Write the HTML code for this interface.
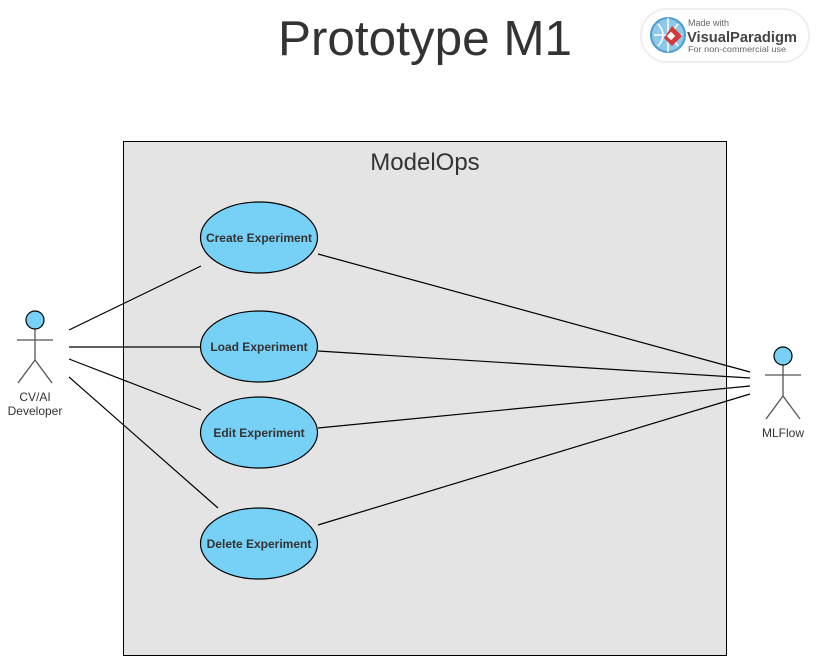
<!DOCTYPE html>
<html><head><meta charset="utf-8"><style>
html,body{margin:0;padding:0;background:#fff;}
svg{display:block;}
</style></head><body>
<svg width="817" height="658" viewBox="0 0 817 658" xmlns="http://www.w3.org/2000/svg" font-family="Liberation Sans, sans-serif">
<text x="425" y="55" text-anchor="middle" font-size="49" fill="#333" textLength="294" lengthAdjust="spacingAndGlyphs">Prototype M1</text>
<!-- VP badge -->
<rect x="641" y="9" width="168" height="53" rx="26" fill="#fff" stroke="#eee" stroke-width="2"/>
<circle cx="668" cy="35" r="17" fill="#8fc9ea" stroke="#4a9ccf" stroke-width="2"/>
<path d="M654 35h28M668 18v34M658 24q10 11 0 22M678 24q-10 11 0 22" stroke="#fff" fill="none" stroke-width="1.5"/>
<path d="M672 26l10 10-10 10-8-8z" fill="#d43a3a"/>
<rect x="668" y="33" width="6" height="6" fill="#fff" transform="rotate(45 671 36)"/>
<text x="688" y="26" font-size="9" fill="#666">Made with</text>
<text x="687" y="42" font-size="15" font-weight="bold" fill="#444" textLength="110" lengthAdjust="spacingAndGlyphs">VisualParadigm</text>
<text x="688" y="52" font-size="8.5" fill="#666" textLength="98" lengthAdjust="spacingAndGlyphs">For non-commercial use</text>
<!-- system box -->
<rect x="123.5" y="141.5" width="603" height="514" fill="#e4e4e4" stroke="#000" stroke-width="1"/>
<text x="425" y="170" text-anchor="middle" font-size="24" fill="#333">ModelOps</text>
<!-- connectors -->
<g stroke="#000" stroke-width="1.2">
<line x1="69" y1="330" x2="201" y2="266"/>
<line x1="69" y1="347" x2="200" y2="347"/>
<line x1="69" y1="359" x2="201" y2="410"/>
<line x1="69" y1="377" x2="218" y2="508"/>
<line x1="318" y1="254" x2="750" y2="372"/>
<line x1="318" y1="351" x2="750" y2="378"/>
<line x1="318" y1="428" x2="750" y2="386"/>
<line x1="318" y1="525" x2="750" y2="394"/>
</g>
<!-- use cases -->
<g fill="#77d0f5" stroke="#000" stroke-width="1.2">
<ellipse cx="259" cy="237.5" rx="58.5" ry="35.5"/>
<ellipse cx="259" cy="346.5" rx="58.5" ry="35.5"/>
<ellipse cx="259" cy="432.5" rx="58.5" ry="35.5"/>
<ellipse cx="259" cy="543.5" rx="58.5" ry="35.5"/>
</g>
<g font-size="12" font-weight="bold" fill="#333" text-anchor="middle">
<text x="259" y="242">Create Experiment</text>
<text x="259" y="351">Load Experiment</text>
<text x="259" y="437">Edit Experiment</text>
<text x="259" y="548">Delete Experiment</text>
</g>
<!-- actors -->
<g stroke="#555" stroke-width="1.3" fill="none">
<line x1="35" y1="329" x2="35" y2="360"/><line x1="17" y1="340" x2="53" y2="340"/>
<line x1="35" y1="360" x2="18" y2="383"/><line x1="35" y1="360" x2="52" y2="383"/>
<line x1="783" y1="365" x2="783" y2="396"/><line x1="765" y1="375" x2="801" y2="375"/>
<line x1="783" y1="396" x2="766" y2="419"/><line x1="783" y1="396" x2="800" y2="419"/>
</g>
<circle cx="35" cy="320" r="9" fill="#77d0f5" stroke="#000" stroke-width="1.2"/>
<circle cx="783" cy="356" r="9" fill="#77d0f5" stroke="#000" stroke-width="1.2"/>
<g font-size="12" fill="#333" text-anchor="middle">
<text x="35" y="401">CV/AI</text>
<text x="35" y="415">Developer</text>
<text x="783" y="437">MLFlow</text>
</g>
</svg>
</body></html>
